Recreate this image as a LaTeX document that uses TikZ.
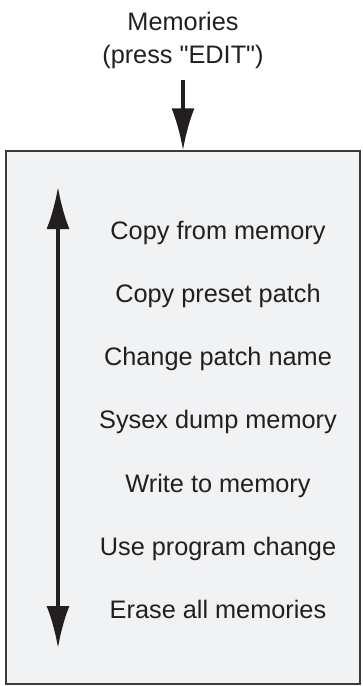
\documentclass[tikz,border=0pt]{standalone}
\usepackage{fontspec}
\setmainfont{Liberation Sans}
\usepackage{tikz}
\usetikzlibrary{arrows.meta,calc,positioning}
\definecolor{ink}{HTML}{231F20}
\definecolor{panelgray}{HTML}{F1F2F4}
\definecolor{rim}{HTML}{3A3A3C}

\begin{document}
\begin{tikzpicture}[x=1pt,y=1pt,>={Latex[length=42pt,width=23pt]},
  menuitem/.style={anchor=base,inner sep=0pt,text=ink,font=\fontsize{25.3}{30}\selectfont},
  flow/.style={->,ink,line width=3.5pt}]
  \useasboundingbox (0,0) rectangle (362,-686);
  \node[draw=rim,line width=1.3pt,fill=panelgray,minimum width=354pt,minimum height=533pt,inner sep=0pt] (panel) at (183,-417.5) {};
  \node[align=center,text=ink,font=\fontsize{25.3}{33}\selectfont,inner sep=0pt] (title) at (183,-40) {Memories\\(press \textquotedbl EDIT\textquotedbl)};
  \draw[flow,shorten <=12pt] (title.south) -- (panel.north);
  % menu entries
  \node[menuitem] (copymem) at (218,-239) {Copy from memory};
  \node[menuitem] (copypreset) at (218,-302.3) {Copy preset patch};
  \node[menuitem] (rename) at (218,-365.6) {Change patch name};
  \node[menuitem] (sysex) at (218,-428.9) {Sysex dump memory};
  \node[menuitem] (write) at (218,-492.2) {Write to memory};
  \node[menuitem] (progchange) at (218,-555.5) {Use program change};
  \node[menuitem] (erase) at (218,-618.8) {Erase all memories};
  \coordinate (scrolltop) at (58,-187);
  \coordinate (scrollbot) at (58,-648);
  \draw[flow,<->] (scrolltop) -- (scrollbot);
\end{tikzpicture}
\end{document}
